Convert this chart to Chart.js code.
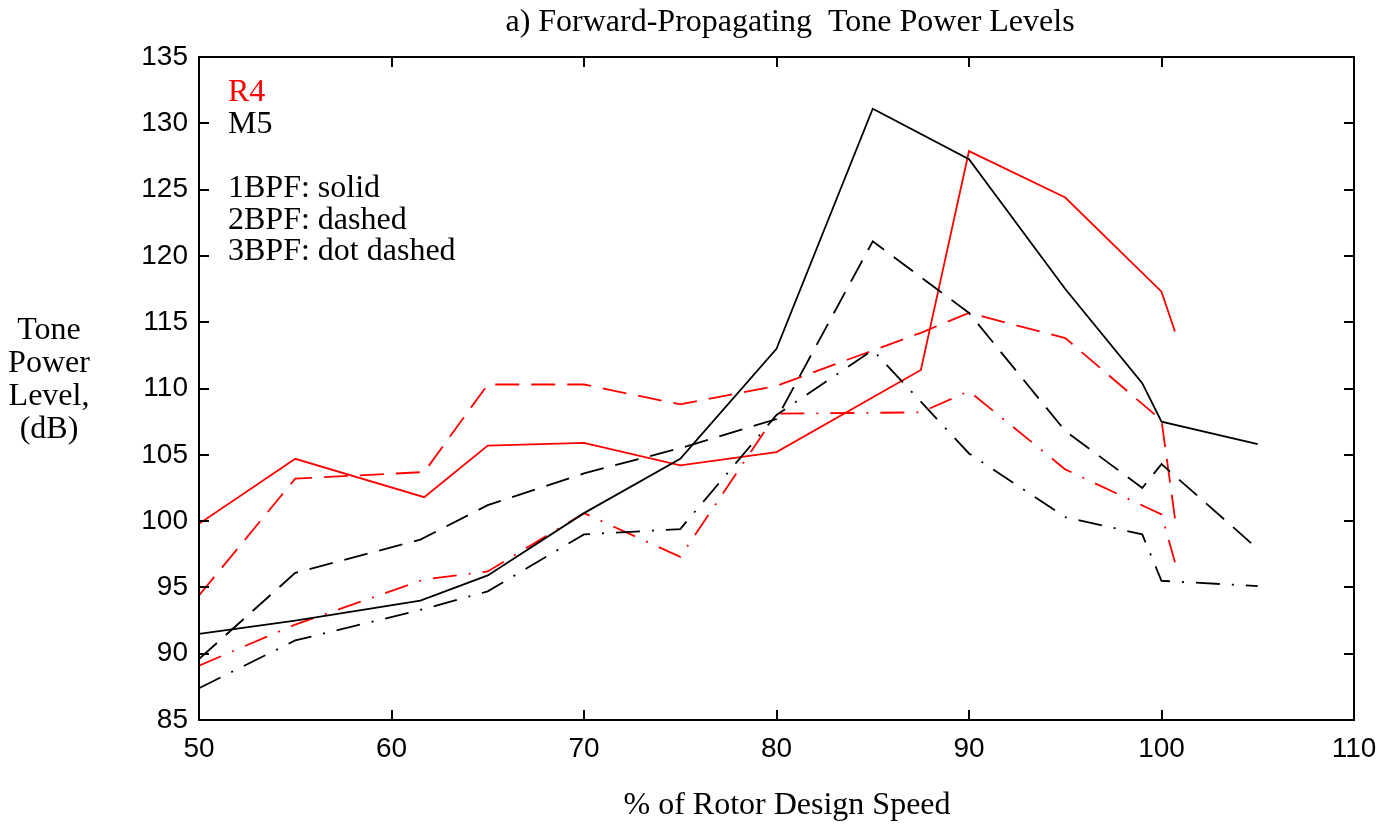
<!DOCTYPE html>
<html>
<head>
<meta charset="utf-8">
<script src="https://cdn.jsdelivr.net/npm/chart.js@4.4.1/dist/chart.umd.min.js"></script>
<style>
  html, body { margin: 0; padding: 0; background: #ffffff; }
  #wrap { width: 1393px; height: 827px; }
</style>
</head>
<body>
<div id="wrap"><canvas id="c" width="1393" height="827"></canvas></div>
<script>
// ---- data ----
const chartTitle = 'a) Forward-Propagating  Tone Power Levels';
const xTitle = '% of Rotor Design Speed';
const yTitleLines = ['Tone', 'Power', 'Level,', '(dB)'];
const legendLines = [
  { text: 'R4', color: '#ff0000' },
  { text: 'M5', color: '#000000' },
  { text: '', color: '#000000' },
  { text: '1BPF: solid', color: '#000000' },
  { text: '2BPF: dashed', color: '#000000' },
  { text: '3BPF: dot dashed', color: '#000000' }
];

const r4Speed = [50, 55, 61.7, 65, 70, 75, 80, 87.5, 90, 95, 100, 100.7];
const r4BPF1  = [99.8, 104.7, 101.8, 105.7, 105.9, 104.2, 105.2, 111.4, 127.9, 124.4, 117.3, 114.3];
const r4BPF2  = [94.4, 103.2, 103.7, 110.3, 110.3, 108.8, 110.2, 114.2, 115.7, 113.8, 107.6, 100.2];
const r4BPF3  = [89.1, 92.2, 95.6, 96.2, 100.6, 97.3, 108.1, 108.2, 109.8, 103.9, 100.5, 96.9];

const m5Speed = [50, 55, 61.5, 65, 70, 75, 80, 85, 90, 95, 99, 100, 105];
const m5BPF1  = [91.5, 92.5, 94.0, 95.9, 100.6, 104.7, 113.0, 131.1, 127.3, 117.5, 110.4, 107.5, 105.8];
const m5BPF2  = [89.6, 96.1, 98.6, 101.2, 103.6, 105.5, 107.7, 121.1, 115.7, 106.8, 102.5, 104.3, 97.9];
const m5BPF3  = [87.4, 91.0, 93.3, 94.7, 99.0, 99.4, 108.0, 112.9, 105.1, 100.3, 99.0, 95.5, 95.1];

const xMin = 50, xMax = 110, xStep = 10;
const yMin = 85, yMax = 135, yStep = 5;

// ---- styles ----
const RED = '#ff0000', BLACK = '#000000';
const SOLID = [], DASHED = [24, 12], DOTDASH = [24, 12, 2, 12];
const serif = '"Liberation Serif", "Times New Roman", serif';
const sans = '"Liberation Sans", Arial, sans-serif';

function pts(xs, ys) { return xs.map((x, i) => ({ x: x, y: ys[i] })); }
function ds(label, xs, ys, color, dash) {
  return {
    label: label, data: pts(xs, ys), borderColor: color, backgroundColor: color,
    borderDash: dash, borderWidth: 1.8, pointRadius: 0, tension: 0, fill: false
  };
}

const datasets = [
  ds('M5 1BPF', m5Speed, m5BPF1, BLACK, SOLID),
  ds('M5 2BPF', m5Speed, m5BPF2, BLACK, DASHED),
  ds('M5 3BPF', m5Speed, m5BPF3, BLACK, DOTDASH),
  ds('R4 1BPF', r4Speed, r4BPF1, RED, SOLID),
  ds('R4 2BPF', r4Speed, r4BPF2, RED, DASHED),
  ds('R4 3BPF', r4Speed, r4BPF3, RED, DOTDASH)
];

const framePlugin = {
  id: 'frame',
  afterDraw(chart) {
    const c = chart.ctx;
    const a = chart.chartArea;
    const xs = chart.scales.x, ys = chart.scales.y;
    c.save();
    c.strokeStyle = '#000';
    c.lineWidth = 2;
    c.setLineDash([]);
    c.strokeRect(a.left, a.top, a.right - a.left, a.bottom - a.top);
    const tl = 10;
    c.beginPath();
    xs.ticks.forEach(t => {
      if (t.value <= xMin || t.value >= xMax) return;
      const p = Math.round(xs.getPixelForValue(t.value));
      c.moveTo(p, a.bottom); c.lineTo(p, a.bottom - tl);
      c.moveTo(p, a.top); c.lineTo(p, a.top + tl);
    });
    ys.ticks.forEach(t => {
      if (t.value <= yMin || t.value >= yMax) return;
      const p = Math.round(ys.getPixelForValue(t.value));
      c.moveTo(a.left, p); c.lineTo(a.left + tl, p);
      c.moveTo(a.right, p); c.lineTo(a.right - tl, p);
    });
    c.stroke();

    // texts
    c.fillStyle = '#000';
    c.font = '32px ' + serif;
    c.textAlign = 'center';
    c.textBaseline = 'alphabetic';
    c.fillText(chartTitle, 790, 31);
    c.fillText(xTitle, 787, 814);
    yTitleLines.forEach((t, i) => c.fillText(t, 49, 339 + i * 33));
    c.textAlign = 'left';
    const legendY = [101, 133, 165, 197, 229, 260];
    legendLines.forEach((l, i) => {
      if (!l.text) return;
      c.fillStyle = l.color;
      c.fillText(l.text, 228, legendY[i]);
    });
    c.restore();
  }
};

new Chart(document.getElementById('c'), {
  type: 'line',
  data: { datasets: datasets },
  options: {
    responsive: false,
    animation: false,
    events: [],
    layout: { padding: { top: 57, right: 39, left: 0, bottom: 0 } },
    plugins: { legend: { display: false }, title: { display: false }, tooltip: { enabled: false } },
    scales: {
      x: {
        type: 'linear', min: xMin, max: xMax,
        ticks: { stepSize: xStep, color: '#000', padding: 12, font: { family: sans, size: 28 }, maxRotation: 0 },
        grid: { display: false, drawTicks: false },
        border: { display: false },
        afterFit: s => { s.height = 107; }
      },
      y: {
        type: 'linear', min: yMin, max: yMax,
        ticks: { stepSize: yStep, color: '#000', padding: 11, font: { family: sans, size: 28 } },
        grid: { display: false, drawTicks: false },
        border: { display: false },
        afterFit: s => { s.width = 199; }
      }
    }
  },
  plugins: [framePlugin]
});
</script>
</body>
</html>
